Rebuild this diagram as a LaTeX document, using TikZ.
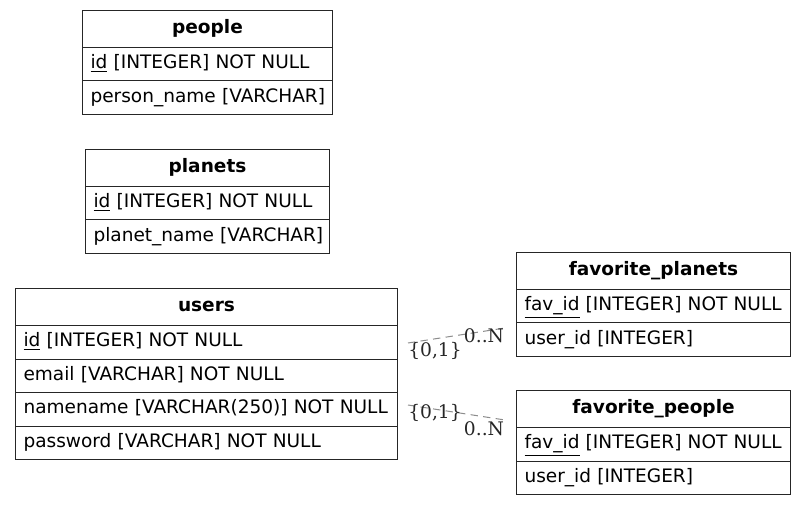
\documentclass[tikz,border=0pt]{standalone}
\usepackage{fontspec}
\setmainfont{DejaVu Sans}
\newfontfamily\lblfont{DejaVu Serif}
\newcommand\pxl[1]{#1*0.75pt}
\newcommand\rt[1]{\hspace*{6pt}\mbox{#1}}
\tikzset{
  cellbase/.style={draw=black!85, line width=0.75pt, anchor=north west, inner ysep=0pt,
    font=\fontsize{13.9pt}{17pt}\selectfont, text height=10.5pt, text depth=3.5pt},
  hdr/.style={cellbase, minimum width=\pxl{#1}, minimum height=\pxl{37}, align=center, inner xsep=0pt},
  rowc/.style={cellbase, text width=\pxl{#1}, inner xsep=0pt, minimum height=\pxl{33.5}, align=left},
  rel/.style={draw=black!45, line width=0.75pt, dash pattern=on 5.5pt off 4pt},
  card/.style={font=\lblfont\fontsize{14pt}{17pt}\selectfont, inner sep=0pt, text=black!85}
}
\begin{document}
\begin{tikzpicture}[x=0.75pt, y=-0.75pt]
\useasboundingbox (0,0) rectangle (805,505);
% people
\node[hdr=250] (people) at (82,10) {\textbf{people}};
\node[rowc=250] (people-id) at (82,47) {\rt{\underline{id} [INTEGER] NOT NULL}};
\node[rowc=250] (people-name) at (82,80.5) {\rt{person\_name [VARCHAR]}};
% planets
\node[hdr=244] (planets) at (85,149) {\textbf{planets}};
\node[rowc=244] (planets-id) at (85,186) {\rt{\underline{id} [INTEGER] NOT NULL}};
\node[rowc=244] (planets-name) at (85,219.5) {\rt{planet\_name [VARCHAR]}};
% users
\node[hdr=382] (users) at (15,288) {\textbf{users}};
\node[rowc=382] (users-id) at (15,325) {\rt{\underline{id} [INTEGER] NOT NULL}};
\node[rowc=382] (users-email) at (15,358.5) {\rt{email [VARCHAR] NOT NULL}};
\node[rowc=382] (users-name) at (15,392) {\rt{namename [VARCHAR(250)] NOT NULL}};
\node[rowc=382] (users-pw) at (15,425.5) {\rt{password [VARCHAR] NOT NULL}};
% favorite_planets
\node[hdr=274] (favplanets) at (516,252) {\textbf{favorite\_planets}};
\node[rowc=274] (favplanets-id) at (516,289) {\rt{\underline{fav\_id} [INTEGER] NOT NULL}};
\node[rowc=274] (favplanets-uid) at (516,322.5) {\rt{user\_id [INTEGER]}};
% favorite_people
\node[hdr=274] (favpeople) at (516,390) {\textbf{favorite\_people}};
\node[rowc=274] (favpeople-id) at (516,427) {\rt{\underline{fav\_id} [INTEGER] NOT NULL}};
\node[rowc=274] (favpeople-uid) at (516,460.5) {\rt{user\_id [INTEGER]}};
% relations
\coordinate (r1s) at (408,343);
\coordinate (r1t) at (505,328);
\coordinate (r2s) at (408,405);
\coordinate (r2t) at (505,420);
\draw[rel] (r1s) -- (r1t);
\draw[rel] (r2s) -- (r2t);
\node[card] (c1s) at (435,351) {\{0,1\}};
\node[card] (c1t) at (484,336) {0..N};
\node[card] (c2s) at (435,413) {\{0,1\}};
\node[card] (c2t) at (484,429) {0..N};
\end{tikzpicture}
\end{document}
